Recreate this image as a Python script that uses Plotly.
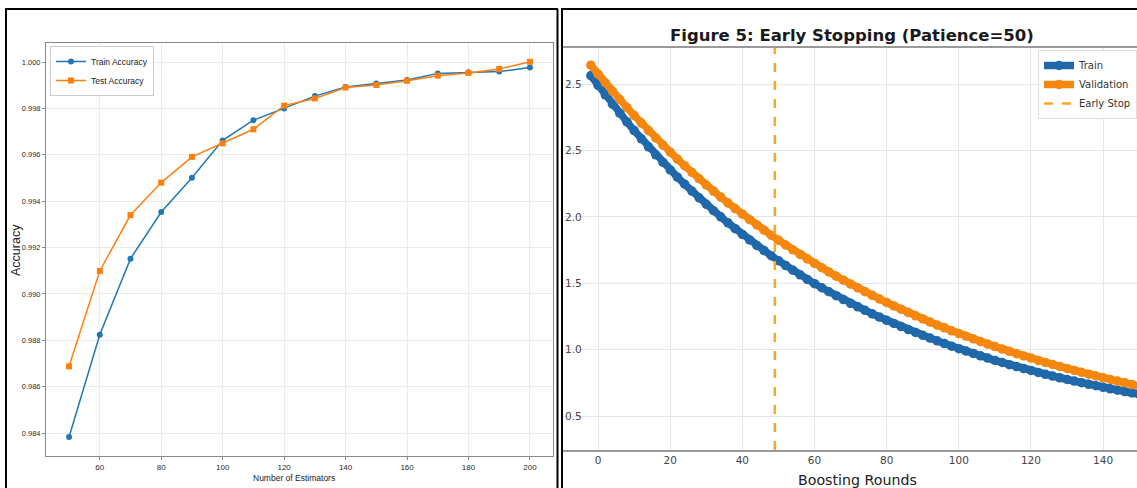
import plotly.graph_objects as go

# ---------------- Left panel data (accuracy vs estimators) ----------------
n_estimators = [50, 60, 70, 80, 90, 100, 110, 120, 130, 140, 150, 160, 170, 180, 190, 200]
train_accuracy = [0.98383, 0.98824, 0.99152, 0.99353, 0.99501, 0.99662, 0.99749, 0.99800,
                  0.99853, 0.99892, 0.99907, 0.99922, 0.99951, 0.99956, 0.99959, 0.99976]
test_accuracy = [0.98688, 0.99099, 0.99340, 0.99480, 0.99591, 0.99649, 0.99710, 0.99812,
                 0.99843, 0.99890, 0.99901, 0.99919, 0.99941, 0.99953, 0.99970, 1.00001]
left_xticks = [60, 80, 100, 120, 140, 160, 180, 200]
left_yticks = [0.984, 0.986, 0.988, 0.990, 0.992, 0.994, 0.996, 0.998, 1.000]

# ---------------- Right panel data (early stopping) ----------------
rounds = list(range(-2, 151, 2))
train_loss = [3.064, 2.990, 2.918, 2.849, 2.781, 2.715, 2.650, 2.588, 2.527, 2.467,
              2.410, 2.353, 2.299, 2.246, 2.194, 2.143, 2.094, 2.046, 2.000, 1.955,
              1.911, 1.868, 1.826, 1.785, 1.746, 1.707, 1.670, 1.633, 1.598, 1.563,
              1.529, 1.497, 1.466, 1.436, 1.406, 1.377, 1.349, 1.322, 1.296, 1.270,
              1.245, 1.221, 1.197, 1.174, 1.151, 1.129, 1.108, 1.087, 1.066, 1.046,
              1.026, 1.007, 0.989, 0.971, 0.953, 0.936, 0.919, 0.903, 0.887, 0.872,
              0.857, 0.843, 0.828, 0.814, 0.801, 0.788, 0.775, 0.763, 0.751, 0.739,
              0.728, 0.716, 0.705, 0.694, 0.684, 0.674, 0.664]
val_loss = [3.142, 3.075, 3.010, 2.946, 2.884, 2.823, 2.764, 2.706, 2.649, 2.594,
            2.540, 2.487, 2.435, 2.385, 2.335, 2.287, 2.240, 2.194, 2.149, 2.105,
            2.062, 2.020, 1.979, 1.939, 1.900, 1.862, 1.824, 1.788, 1.752, 1.717,
            1.683, 1.649, 1.617, 1.585, 1.554, 1.523, 1.494, 1.465, 1.436, 1.409,
            1.382, 1.355, 1.329, 1.304, 1.279, 1.255, 1.231, 1.208, 1.186, 1.164,
            1.142, 1.121, 1.101, 1.081, 1.061, 1.042, 1.023, 1.005, 0.987, 0.969,
            0.952, 0.936, 0.919, 0.903, 0.888, 0.873, 0.858, 0.843, 0.829, 0.815,
            0.802, 0.788, 0.775, 0.763, 0.750, 0.738, 0.726]
early_stop_round = 49
right_xticks = [0, 20, 40, 60, 80, 100, 120, 140]
right_yticks = [0.5, 1.0, 1.5, 2.0, 2.5, 3.0]
right_yticklabels = ["0.5", "1.0", "1.5", "2.0", "2.5", "2.5"]

W, H = 1137, 488
BLUE_L, ORANGE_L = "#1f77b4", "#ff7f0e"
BLUE_R, ORANGE_R = "#1f68aa", "#f5870e"
ES_COLOR = "#f9a825"
LIB = "Liberation Sans, Arial, sans-serif"
DJV = "DejaVu Sans, Verdana, sans-serif"

fig = go.Figure()

# Left traces
fig.add_trace(go.Scatter(x=n_estimators, y=train_accuracy, mode="lines+markers",
                         name="Train Accuracy", line=dict(color=BLUE_L, width=1.5),
                         marker=dict(symbol="circle", size=6, color=BLUE_L),
                         xaxis="x", yaxis="y", legend="legend"))
fig.add_trace(go.Scatter(x=n_estimators, y=test_accuracy, mode="lines+markers",
                         name="Test Accuracy", line=dict(color=ORANGE_L, width=1.5),
                         marker=dict(symbol="square", size=6, color=ORANGE_L),
                         xaxis="x", yaxis="y", legend="legend"))

# Right traces
fig.add_trace(go.Scatter(x=rounds, y=train_loss, mode="lines+markers", name="Train",
                         line=dict(color=BLUE_R, width=7.5),
                         marker=dict(symbol="circle", size=9.5, color=BLUE_R),
                         xaxis="x2", yaxis="y2", legend="legend2"))
fig.add_trace(go.Scatter(x=rounds, y=val_loss, mode="lines+markers", name="Validation",
                         line=dict(color=ORANGE_R, width=7.5),
                         marker=dict(symbol="circle", size=9.5, color=ORANGE_R),
                         xaxis="x2", yaxis="y2", legend="legend2"))
fig.add_trace(go.Scatter(x=[None], y=[None], mode="lines", name="Early Stop",
                         line=dict(color=ES_COLOR, width=2.5, dash="dash"),
                         xaxis="x2", yaxis="y2", legend="legend2"))

fig.add_shape(type="line", xref="x2", yref="y2 domain", x0=early_stop_round,
              x1=early_stop_round, y0=0, y1=1,
              line=dict(color=ES_COLOR, width=2.5, dash="dash"))

# Panel borders (black frames)
def px(v):
    return v / W

def py(v):
    return 1 - v / H

border = dict(color="black", width=2)
for (x0, y0, x1, y1) in [(6, 9, 6, 488), (5, 9, 558, 9), (557.5, 9, 557.5, 488),
                         (562, 9, 562, 488), (561, 9, 1137, 9)]:
    fig.add_shape(type="line", xref="paper", yref="paper",
                  x0=px(x0), y0=py(y0), x1=px(x1), y1=py(y1), line=border, layer="above")

fig.update_layout(
    width=W, height=H, margin=dict(l=0, r=0, t=0, b=0, autoexpand=False),
    paper_bgcolor="white", plot_bgcolor="white",
    showlegend=True,
    xaxis=dict(domain=[px(46), px(553)], range=[42.5, 207.5], tickvals=left_xticks,
               showgrid=True, gridcolor="#ebebeb", gridwidth=1, zeroline=False,
               showline=True, linecolor="#888", linewidth=1, mirror=True,
               ticks="outside", ticklen=3, tickcolor="#888",
               tickfont=dict(family=LIB, size=8, color="#2a2a2a"), anchor="y"),
    yaxis=dict(domain=[py(456), py(43)], range=[0.98301, 1.00082], tickvals=left_yticks,
               tickformat=".3f",
               showgrid=True, gridcolor="#ebebeb", gridwidth=1, zeroline=False,
               showline=True, linecolor="#888", linewidth=1, mirror=True,
               ticks="outside", ticklen=3, tickcolor="#888",
               tickfont=dict(family=LIB, size=7.5, color="#2a2a2a"), anchor="x"),
    xaxis2=dict(domain=[px(562), 1.0], range=[-10, 149.4], tickvals=right_xticks,
                showgrid=True, gridcolor="#e6e6e6", gridwidth=1, zeroline=False,
                showline=True, linecolor="#9a9a9a", linewidth=1.5, mirror=True,
                ticks="", tickfont=dict(family=DJV, size=10.5, color="#444"), anchor="y2"),
    yaxis2=dict(domain=[py(450), py(47.7)], range=[0.244, 3.274], tickvals=right_yticks,
                ticktext=right_yticklabels, ticklabelposition="inside",
                showgrid=True, gridcolor="#e6e6e6", gridwidth=1, zeroline=False,
                showline=False, ticks="",
                tickfont=dict(family=DJV, size=10.5, color="#444"), anchor="x2"),
    legend=dict(x=px(50), y=py(46), xanchor="left", yanchor="top",
                bgcolor="rgba(255,255,255,0.9)", bordercolor="#cccccc", borderwidth=1,
                font=dict(family=LIB, size=8.5, color="#222"),
                tracegroupgap=0, itemwidth=30),
    legend2=dict(x=1.0, y=py(50), xanchor="right", yanchor="top",
                 bgcolor="rgba(255,255,255,0.9)", bordercolor="#dddddd", borderwidth=1,
                 font=dict(family=DJV, size=10, color="#333"),
                 tracegroupgap=0, itemwidth=30),
    annotations=[
        dict(text="Accuracy", x=px(16), y=py(250), xref="paper", yref="paper",
             showarrow=False, textangle=-90, xanchor="center", yanchor="middle",
             font=dict(family=LIB, size=12.5, color="#222")),
        dict(text="Number of Estimators", x=px(294), y=py(478), xref="paper", yref="paper",
             showarrow=False, xanchor="center", yanchor="middle",
             font=dict(family=LIB, size=8.5, color="#222")),
        dict(text="Boosting Rounds", x=px(857), y=py(480), xref="paper", yref="paper",
             showarrow=False, xanchor="center", yanchor="middle",
             font=dict(family=DJV, size=14.2, color="#222")),
        dict(text="<b>Figure 5: Early Stopping (Patience=50)</b>", x=px(851.5), y=py(35),
             xref="paper", yref="paper", showarrow=False, xanchor="center", yanchor="middle",
             font=dict(family=DJV, size=16.5, color="#1a1a1a")),
    ],
)

fig.write_html("out.html", config={"displayModeBar": False},
               post_script="document.body.style.margin='0';")
